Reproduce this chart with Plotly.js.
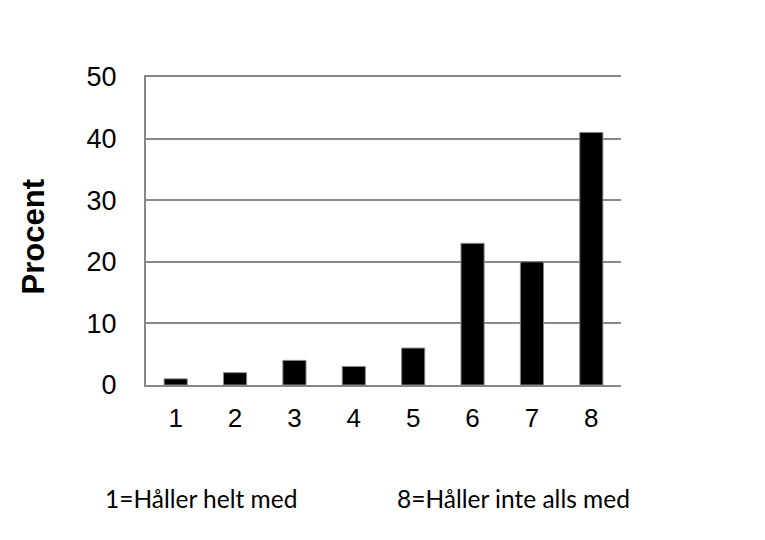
<!DOCTYPE html>
<html>
<head>
<meta charset="utf-8">
<script src="https://cdn.plot.ly/plotly-3.0.1.min.js"></script>
<style>html,body{margin:0;padding:0;background:#fff;}#chart{width:765px;height:540px;}</style>
</head>
<body>
<div id="chart"></div>
<script>
const categories = ["1", "2", "3", "4", "5", "6", "7", "8"];
const values = [1, 2, 4, 3, 6, 23, 20, 41];
const yTicks = [0, 10, 20, 30, 40, 50];
const yTitle = "Procent";
const noteLeft = "1=Håller helt med";
const noteRight = "8=Håller inte alls med";

const trace = {
  type: "bar",
  x: categories,
  y: values,
  marker: {color: "#000000", line: {color: "#8a8a8a", width: 1}},
  hoverinfo: "skip"
};

const layout = {
  width: 765, height: 540,
  paper_bgcolor: "#ffffff", plot_bgcolor: "#ffffff",
  margin: {l: 146, r: 144, t: 77, b: 155},
  bargap: 0.61,
  showlegend: false,
  font: {family: "Liberation Sans, Arial, sans-serif", color: "#000000", size: 26},
  xaxis: {
    type: "category",
    showline: true, linecolor: "#868686", linewidth: 2, mirror: true,
    ticks: "", showgrid: false, zeroline: false,
    tickfont: {size: 26}, ticklabelstandoff: 9
  },
  yaxis: {
    range: [0, 50], tickvals: yTicks, ticktext: yTicks.map(String),
    showline: true, linecolor: "#868686", linewidth: 2,
    showgrid: true, gridcolor: "#8a8a8a", gridwidth: 2,
    zeroline: false, ticks: "",
    tickfont: {size: 27}, ticklabelstandoff: 22
  },
  annotations: [
    {text: "<b>" + yTitle + "</b>", xref: "paper", yref: "paper", x: -0.236, y: 0.482, xanchor: "center", yanchor: "middle",
     textangle: -90, showarrow: false, font: {family: "Liberation Sans, Arial, sans-serif", size: 31, color: "#000"}},
    {text: noteLeft, xref: "paper", yref: "paper", x: -0.0905, y: -0.367, xanchor: "left", yanchor: "middle", showarrow: false,
     font: {family: "Lato, Noto Sans, sans-serif", size: 24.5, color: "#000"}},
    {text: noteRight, xref: "paper", yref: "paper", x: 0.524, y: -0.367, xanchor: "left", yanchor: "middle", showarrow: false,
     font: {family: "Lato, Noto Sans, sans-serif", size: 24.5, color: "#000"}}
  ]
};

Plotly.newPlot("chart", [trace], layout, {displayModeBar: false, staticPlot: true});
</script>
</body>
</html>
